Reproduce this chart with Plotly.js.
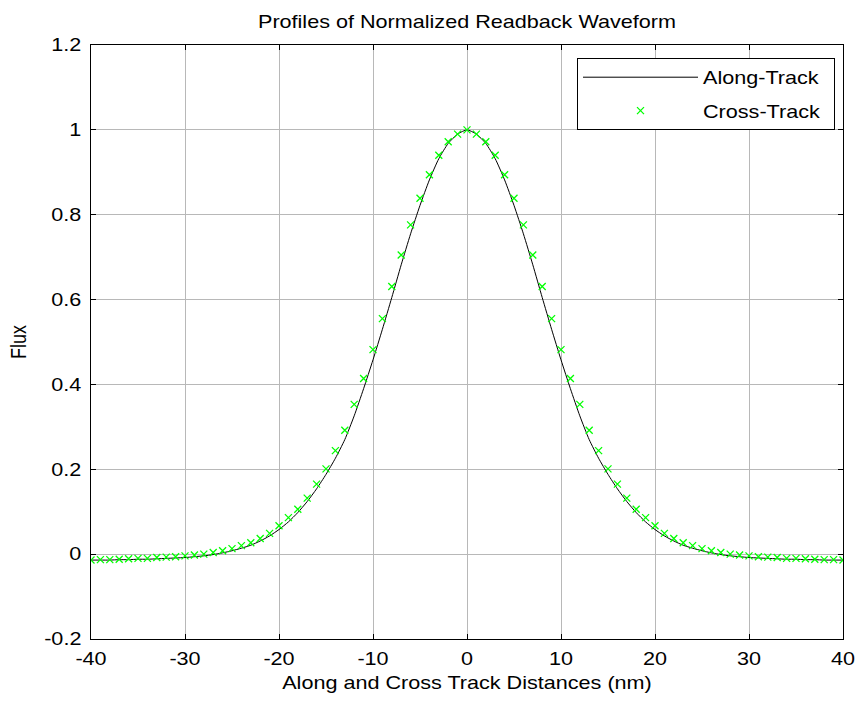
<!DOCTYPE html>
<html>
<head>
<meta charset="utf-8">
<script src="https://cdn.plot.ly/plotly-3.0.1.min.js"></script>
<style>body{margin:0;background:#fff;}</style>
</head>
<body>
<div id="chart" style="width:864px;height:704px;"></div>
<script>
// ---- data ----
const distances = [-40,-39,-38,-37,-36,-35,-34,-33,-32,-31,-30,-29,-28,-27,-26,-25,-24,-23,-22,-21,-20,-19,-18,-17,-16,-15,-14,-13,-12,-11,-10,-9,-8,-7,-6,-5,-4,-3,-2,-1,0,1,2,3,4,5,6,7,8,9,10,11,12,13,14,15,16,17,18,19,20,21,22,23,24,25,26,27,28,29,30,31,32,33,34,35,36,37,38,39,40];

const alongTrack = [-0.014,-0.014,-0.014,-0.013,-0.013,-0.012,-0.012,-0.011,-0.010,-0.009,-0.008,-0.006,-0.004,-0.001,0.003,0.008,0.014,0.021,0.031,0.043,0.058,0.076,0.098,0.124,0.154,0.188,0.226,0.270,0.326,0.390,0.458,0.530,0.605,0.682,0.755,0.822,0.882,0.932,0.968,0.990,1.000,0.990,0.968,0.932,0.882,0.822,0.755,0.682,0.605,0.530,0.458,0.390,0.326,0.270,0.226,0.188,0.154,0.124,0.098,0.076,0.058,0.043,0.031,0.021,0.014,0.008,0.003,-0.001,-0.004,-0.006,-0.008,-0.009,-0.010,-0.011,-0.012,-0.012,-0.013,-0.013,-0.014,-0.014,-0.014];

const crossTrack = [-0.014,-0.013,-0.013,-0.012,-0.011,-0.010,-0.010,-0.008,-0.007,-0.006,-0.004,-0.002,0.000,0.004,0.008,0.013,0.020,0.027,0.037,0.049,0.067,0.086,0.106,0.132,0.165,0.201,0.244,0.292,0.353,0.414,0.482,0.555,0.631,0.705,0.776,0.839,0.894,0.940,0.972,0.990,1.000,0.990,0.972,0.940,0.894,0.839,0.776,0.705,0.631,0.555,0.482,0.414,0.353,0.292,0.244,0.201,0.165,0.132,0.106,0.086,0.067,0.049,0.037,0.027,0.020,0.013,0.008,0.004,0.000,-0.002,-0.004,-0.006,-0.007,-0.008,-0.010,-0.010,-0.011,-0.012,-0.013,-0.013,-0.014];

const xTickVals = [-40,-30,-20,-10,0,10,20,30,40];
const xTickText = ['-40','-30','-20','-10','0','10','20','30','40'];
const yTickVals = [-0.2,0,0.2,0.4,0.6,0.8,1,1.2];
const yTickText = ['-0.2','0','0.2','0.4','0.6','0.8','1','1.2'];

const seriesNames = ['Along-Track','Cross-Track'];
const titleText = 'Profiles of Normalized Readback Waveform';
const xTitle = 'Along and Cross Track Distances (nm)';
const yTitle = 'Flux';

// ---- chart ----
const FONT = 'Arial, "Liberation Sans", sans-serif';
const traces = [
  {x: distances, y: alongTrack, name: seriesNames[0], type: 'scatter', mode: 'lines',
   line: {color: '#000000', width: 1, shape: 'spline', smoothing: 0.6}, legendgroup: 'a'},
  {x: distances, y: crossTrack, name: seriesNames[1], type: 'scatter', mode: 'markers',
   marker: {symbol: 'x-thin-open', size: 7, color: '#00ff00', line: {color: '#00ff00', width: 1.3}}, legendgroup: 'b'}
];

const axisCommon = {
  showline: true, linecolor: '#000', linewidth: 1, mirror: 'ticks',
  ticks: 'inside', ticklen: 5, tickcolor: '#000', tickwidth: 1,
  showgrid: true, gridcolor: '#b8b8b8', gridwidth: 1, zeroline: false,
  tickfont: {family: FONT, size: 18, color: '#000'}
};

const layout = {
  width: 864, height: 704,
  paper_bgcolor: '#fff', plot_bgcolor: '#fff',
  margin: {l: 91, r: 21, t: 45, b: 65},
  font: {family: FONT, size: 18, color: '#000'},
  title: {text: titleText, font: {family: FONT, size: 18, color: '#000'},
          xref: 'paper', x: 0.5, xanchor: 'center', yref: 'container', y: 1 - 22/704, yanchor: 'middle'},
  xaxis: Object.assign({}, axisCommon, {
    range: [-40, 40], tickmode: 'array', tickvals: xTickVals, ticktext: xTickText,
    ticklabelstandoff: 3,
    title: {text: xTitle, font: {family: FONT, size: 18, color: '#000'}, standoff: 8}
  }),
  yaxis: Object.assign({}, axisCommon, {
    range: [-0.2, 1.2], tickmode: 'array', tickvals: yTickVals, ticktext: yTickText,
    ticklabelstandoff: 5,
    title: {text: yTitle, font: {family: FONT, size: 18, color: '#000'}, standoff: 20}
  }),
  showlegend: true,
  legend: {
    x: (577 - 91) / 752, xanchor: 'left', y: (639 - 58) / 594, yanchor: 'top',
    bgcolor: '#fff', bordercolor: '#000', borderwidth: 1,
    font: {family: FONT, size: 18, color: '#000'},
    itemwidth: 115, traceorder: 'grouped', tracegroupgap: 7
  }
};

const STRETCH = 1.2;
const LEGEND_WIDTH = 258;   // box width in px, as in the reference

function stretchText(gd) {
  gd.querySelectorAll('.main-svg text').forEach(function (t) {
    if (!t.textContent) return;
    let bb;
    try { bb = t.getBBox(); } catch (e) { return; }
    if (!bb || !bb.width) return;
    const tr = t.getAttribute('transform') || '';
    if (t.closest('.g-ytitle')) {
      const oy = bb.y + bb.height / 2;
      t.setAttribute('transform', tr + ' translate(0,' + oy + ') scale(1,' + STRETCH + ') translate(0,' + (-oy) + ')');
      return;
    }
    const anc = t.getAttribute('text-anchor') || 'start';
    const ox = anc === 'middle' ? bb.x + bb.width / 2 : (anc === 'end' ? bb.x + bb.width : bb.x);
    t.setAttribute('transform', tr + ' translate(' + ox + ',0) scale(' + STRETCH + ',1) translate(' + (-ox) + ',0)');
  });
}

function widenLegend(gd) {
  const bg = gd.querySelector('.legend rect.bg');
  if (bg) {
    const bw = 1;
    bg.setAttribute('width', LEGEND_WIDTH - bw);
  }
  gd.querySelectorAll('clipPath rect').forEach(function (r) {
    const cp = r.closest('clipPath');
    if (cp && /legend/i.test(cp.id)) r.setAttribute('width', LEGEND_WIDTH);
  });
  const sb = gd.querySelector('.legend .scrollbox');
  if (sb) sb.removeAttribute('clip-path');
}

const gd = document.getElementById('chart');
Plotly.newPlot(gd, traces, layout, {displayModeBar: false, responsive: false, staticPlot: true})
  .then(function () { widenLegend(gd); stretchText(gd); });
</script>
</body>
</html>
